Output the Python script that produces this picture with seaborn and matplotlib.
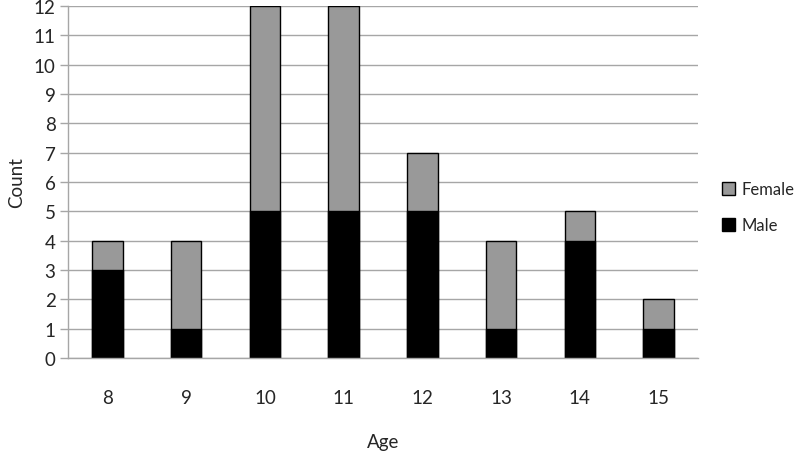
import numpy as np
import pandas as pd
import matplotlib
matplotlib.use("Agg")
import matplotlib.pyplot as plt
import seaborn as sns
from matplotlib.patches import Patch

ages = ["8", "9", "10", "11", "12", "13", "14", "15"]
male = [3, 1, 5, 5, 5, 1, 4, 1]
female = [1, 3, 7, 7, 2, 3, 1, 1]
totals = [m + f for m, f in zip(male, female)]

sns.set_style("white")
plt.rcParams['font.family'] = ['Lato', 'DejaVu Sans']
fs = 13.5

grid_col = "#a6a6a6"
fig = plt.figure(figsize=(7.94, 4.56), dpi=100)
ax = fig.add_axes([68 / 794, 1 - 359 / 456, (698 - 68) / 794, (359 - 7) / 456])

# stacked: total in gray first, male in black on top of it
sns.barplot(x=ages, y=totals, color="#999999", edgecolor="black", linewidth=1,
            width=0.39, saturation=1, ax=ax)
sns.barplot(x=ages, y=male, color="black", edgecolor="black", linewidth=1,
            width=0.39, saturation=1, ax=ax)

ax.set_xlim(-0.5, 7.5)
ax.set_ylim(0, 12)
ax.set_yticks(range(0, 13))
ax.yaxis.grid(True, color=grid_col, linewidth=1)
ax.set_axisbelow(True)

for side in ["top", "right"]:
    ax.spines[side].set_visible(False)
for side in ["left", "bottom"]:
    ax.spines[side].set_color(grid_col)
    ax.spines[side].set_linewidth(1)

ax.set_xticks(np.arange(8))
ax.set_xticklabels(ages)
ax.set_xticks(np.arange(-0.5, 8, 1), minor=True)
ax.tick_params(axis="x", which="major", length=0, pad=22, labelsize=fs)
ax.tick_params(axis="x", which="minor", length=7, color=grid_col, width=1, direction="out")
ax.tick_params(axis="y", length=6, color=grid_col, width=1, direction="out",
               labelsize=fs, pad=3)
ax.tick_params(axis="y", left=True)

ax.set_xlabel("Age", fontsize=fs, labelpad=20)
ax.set_ylabel("Count", fontsize=fs, labelpad=6)

handles = [Patch(facecolor="#999999", edgecolor="black", label="Female"),
           Patch(facecolor="black", edgecolor="black", label="Male")]
fig.legend(handles=handles, loc="center left", bbox_to_anchor=(722 / 794, 1 - 208 / 456),
           frameon=False, fontsize=12, handlelength=0.8, handleheight=0.8,
           handletextpad=0.35, labelspacing=1.2, borderpad=0, borderaxespad=0)

fig.savefig("out.png", dpi=100)
